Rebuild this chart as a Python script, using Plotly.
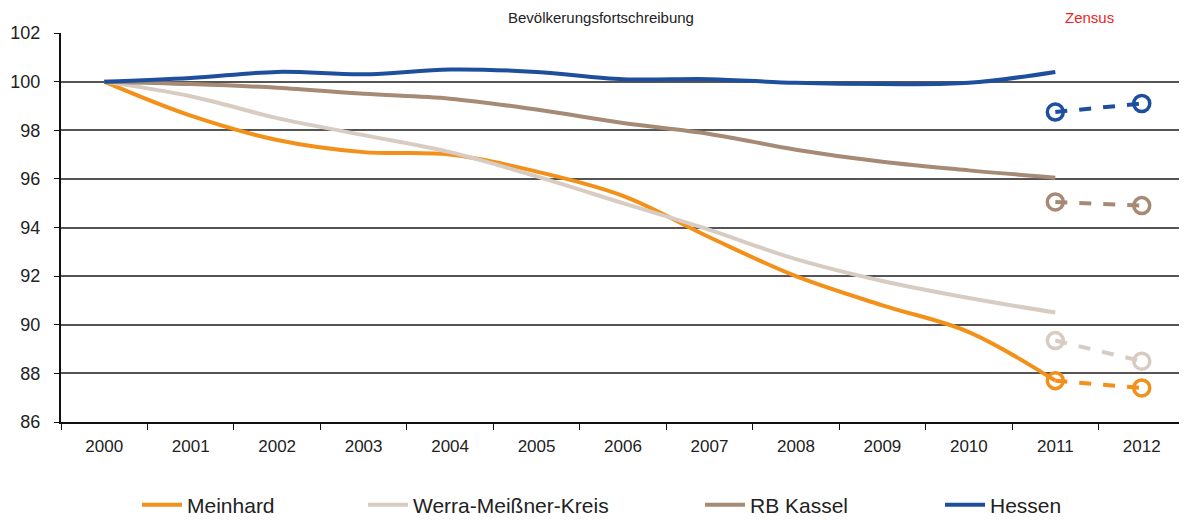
import plotly.graph_objs as go

# =========================
# 数据
# =========================
YEARS = ["2000", "2001", "2002", "2003", "2004", "2005", "2006",
         "2007", "2008", "2009", "2010", "2011", "2012"]
FORT_YEARS = YEARS[:12]
ZENSUS_YEARS = ["2011", "2012"]

meinhard = [100, 98.6, 97.6, 97.1, 97.0, 96.3, 95.3, 93.6, 92.0, 90.8, 89.7, 87.7]
werra = [100, 99.4, 98.5, 97.8, 97.1, 96.1, 95.0, 93.9, 92.7, 91.8, 91.1, 90.5]
rb_kassel = [100, 99.9, 99.75, 99.5, 99.3, 98.85, 98.3, 97.85, 97.2, 96.7, 96.35, 96.05]
hessen = [100, 100.15, 100.4, 100.3, 100.5, 100.4, 100.1, 100.1, 99.95, 99.9, 99.95, 100.4]

meinhard_z = [87.7, 87.4]
werra_z = [89.35, 88.5]
rb_kassel_z = [95.05, 94.9]
hessen_z = [98.75, 99.1]

SERIES = [
    ("Meinhard", meinhard, meinhard_z, "#F39019"),
    ("Werra-Meißner-Kreis", werra, werra_z, "#D8CCC2"),
    ("RB Kassel", rb_kassel, rb_kassel_z, "#A68A76"),
    ("Hessen", hessen, hessen_z, "#1E4F9C"),
]

W, H = 1179, 513  # Seite hat 8px Rand
# Legendenpositionen (Pixel von links, in der Figur)
LEGEND_X = [129, 355, 692, 932]

fig = go.Figure()

for i, (name, vals, zvals, color) in enumerate(SERIES):
    leg = "legend" if i == 0 else f"legend{i + 1}"
    # Fortschreibung (geglättete Linie)
    fig.add_trace(go.Scatter(
        x=FORT_YEARS, y=vals, name=name, mode="lines", legend=leg,
        line=dict(color=color, width=4, shape="spline", smoothing=1),
    ))
    # Zensus (gestrichelt mit offenen Kreisen)
    fig.add_trace(go.Scatter(
        x=ZENSUS_YEARS, y=zvals, mode="lines+markers", showlegend=False,
        line=dict(color=color, width=4, dash="dash"),
        marker=dict(symbol="circle-open", size=16, line=dict(color=color, width=3.5)),
    ))

fig.add_annotation(x=0.48, xref="paper", y=1.0386, yref="paper", yanchor="middle",
                   text="Bevölkerungsfortschreibung", showarrow=False,
                   font=dict(size=15, color="#222222"))
fig.add_annotation(x=11.4, xref="x", y=1.0386, yref="paper", yanchor="middle",
                   text="Zensus", showarrow=False,
                   font=dict(size=15, color="#ee2222"))

legend_common = dict(
    orientation="h", xref="container", yref="container",
    y=(H - 497) / H, yanchor="middle", xanchor="left",
    font=dict(size=21), itemwidth=40, bgcolor="rgba(0,0,0,0)",
)
layout_legends = {}
for i, lx in enumerate(LEGEND_X):
    key = "legend" if i == 0 else f"legend{i + 1}"
    layout_legends[key] = dict(legend_common, x=lx / W)

fig.update_layout(
    width=W, height=H,
    plot_bgcolor="white", paper_bgcolor="white",
    font=dict(family="Liberation Sans, Arial", color="#222222"),
    margin=dict(l=53, r=2, t=25, b=99),
    xaxis=dict(
        type="category", categoryorder="array", categoryarray=YEARS,
        range=[-0.5, 12.5], showgrid=False,
        showline=True, linecolor="#111111", linewidth=2,
        ticks="outside", tickson="boundaries", ticklen=6, tickcolor="#111111",
        tickfont=dict(size=17), ticklabelstandoff=8, fixedrange=True,
    ),
    yaxis=dict(
        range=[86, 102], dtick=2, showgrid=True, gridcolor="#555555", gridwidth=1.5,
        showline=True, linecolor="#111111", linewidth=2,
        ticks="outside", ticklen=5, tickcolor="#111111",
        tickfont=dict(size=18), ticklabelstandoff=10, zeroline=False,
    ),
    showlegend=True,
    **layout_legends,
)

fig.write_html("out.html")
